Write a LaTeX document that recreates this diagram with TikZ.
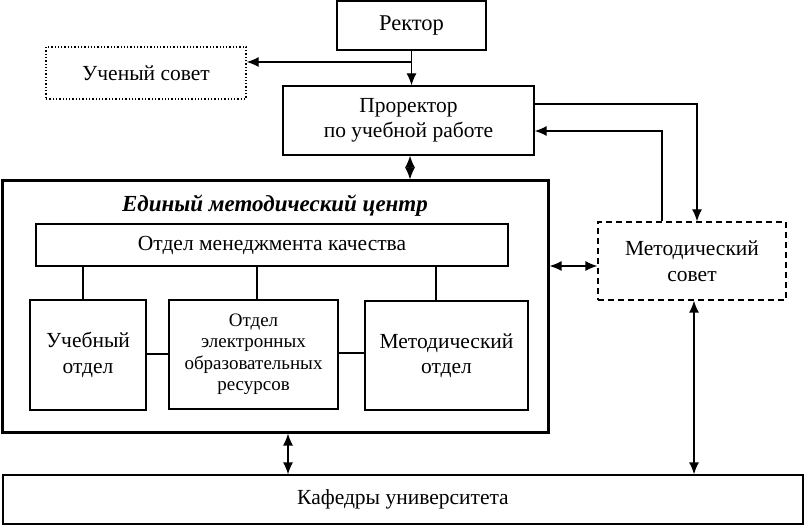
\documentclass[tikz,border=0pt]{standalone}
\usepackage{fontspec}
\setmainfont{Liberation Serif}
\usetikzlibrary{arrows.meta}
\begin{document}
\begin{tikzpicture}[x=1pt,y=-1pt,
  box/.style={draw, line width=1.3pt, inner sep=0pt, align=center, font=\fontsize{21.5}{25.5}\selectfont},
  ln/.style={line width=1.3pt},
  arr/.style={line width=1.3pt, -{Latex[length=12pt,width=10pt]}},
  darr/.style={line width=1.3pt, {Latex[length=12pt,width=10pt]}-{Latex[length=12pt,width=10pt]}}]
\useasboundingbox (0,0) rectangle (805,526);
\node[box, minimum width=149pt, minimum height=49pt, font=\fontsize{22.5}{26}\selectfont] (rektor) at (411.5,25.5) {Ректор};
\node[box, dotted, minimum width=200pt, minimum height=52pt] (uchsov) at (146,73) {Ученый совет};
\node[box, minimum width=251pt, minimum height=69pt] (prorektor) at (408.5,120.5) {Проректор\\по учебной работе};
\node[box, line width=3pt, minimum width=546pt, minimum height=251pt] (emc) at (275,306.5) {};
\node[font=\fontsize{23}{26}\selectfont\bfseries\itshape] (title) at (275,206) {Единый методический центр};
\node[box, minimum width=472pt, minimum height=42pt] (omk) at (272,245) {Отдел менеджмента качества};
\node[box, minimum width=116pt, minimum height=110pt] (uch) at (88,355) {Учебный\\отдел};
\node[box, minimum width=169pt, minimum height=109pt, font=\fontsize{19}{21.5}\selectfont] (eor) at (253.5,354.5) {Отдел\\электронных\\образовательных\\ресурсов};
\node[box, minimum width=163pt, minimum height=109pt] (met) at (446.5,355.5) {Методический\\отдел};
\node[box, dashed, dash pattern=on 6pt off 4pt, minimum width=188pt, minimum height=78pt] (msov) at (692,261) {Методический\\совет};
\node[box, minimum width=800pt, minimum height=49pt] (kaf) at (403,499.5) {Кафедры университета};
% Rektor connections
\coordinate (br) at (411,62);
\draw[arr] (rektor.south) -- (rektor.south |- prorektor.north);
\draw[arr] (br) -- (uchsov.east |- br);
% Prorektor <-> Metod sovet
\coordinate (p1) at (697,104);
\coordinate (p2) at (662,131);
\draw[arr] (prorektor.east |- p1) -- (p1) -- (p1 |- msov.north);
\draw[arr] (p2 |- msov.north) -- (p2) -- (prorektor.east |- p2);
% Prorektor <-> EMC
\coordinate (c1) at (410,0);
\draw[darr] (c1 |- prorektor.south) -- (c1 |- emc.north);
% EMC <-> Metod sovet
\coordinate (c2) at (0,266);
\draw[darr] (emc.east |- c2) -- (msov.west |- c2);
% internal
\coordinate (v1) at (83,0);
\coordinate (v2) at (257,0);
\coordinate (v3) at (436,0);
\draw[ln] (v1 |- omk.south) -- (v1 |- uch.north);
\draw[ln] (v2 |- omk.south) -- (v2 |- eor.north);
\draw[ln] (v3 |- omk.south) -- (v3 |- met.north);
\coordinate (h1) at (0,354);
\coordinate (h2) at (0,353);
\draw[ln] (uch.east |- h1) -- (eor.west |- h1);
\draw[ln] (eor.east |- h2) -- (met.west |- h2);
% to Kafedry
\coordinate (c3) at (288,0);
\draw[darr] (c3 |- emc.south) -- (c3 |- kaf.north);
\coordinate (c4) at (694,0);
\draw[darr] (c4 |- msov.south) -- (c4 |- kaf.north);
\end{tikzpicture}
\end{document}
